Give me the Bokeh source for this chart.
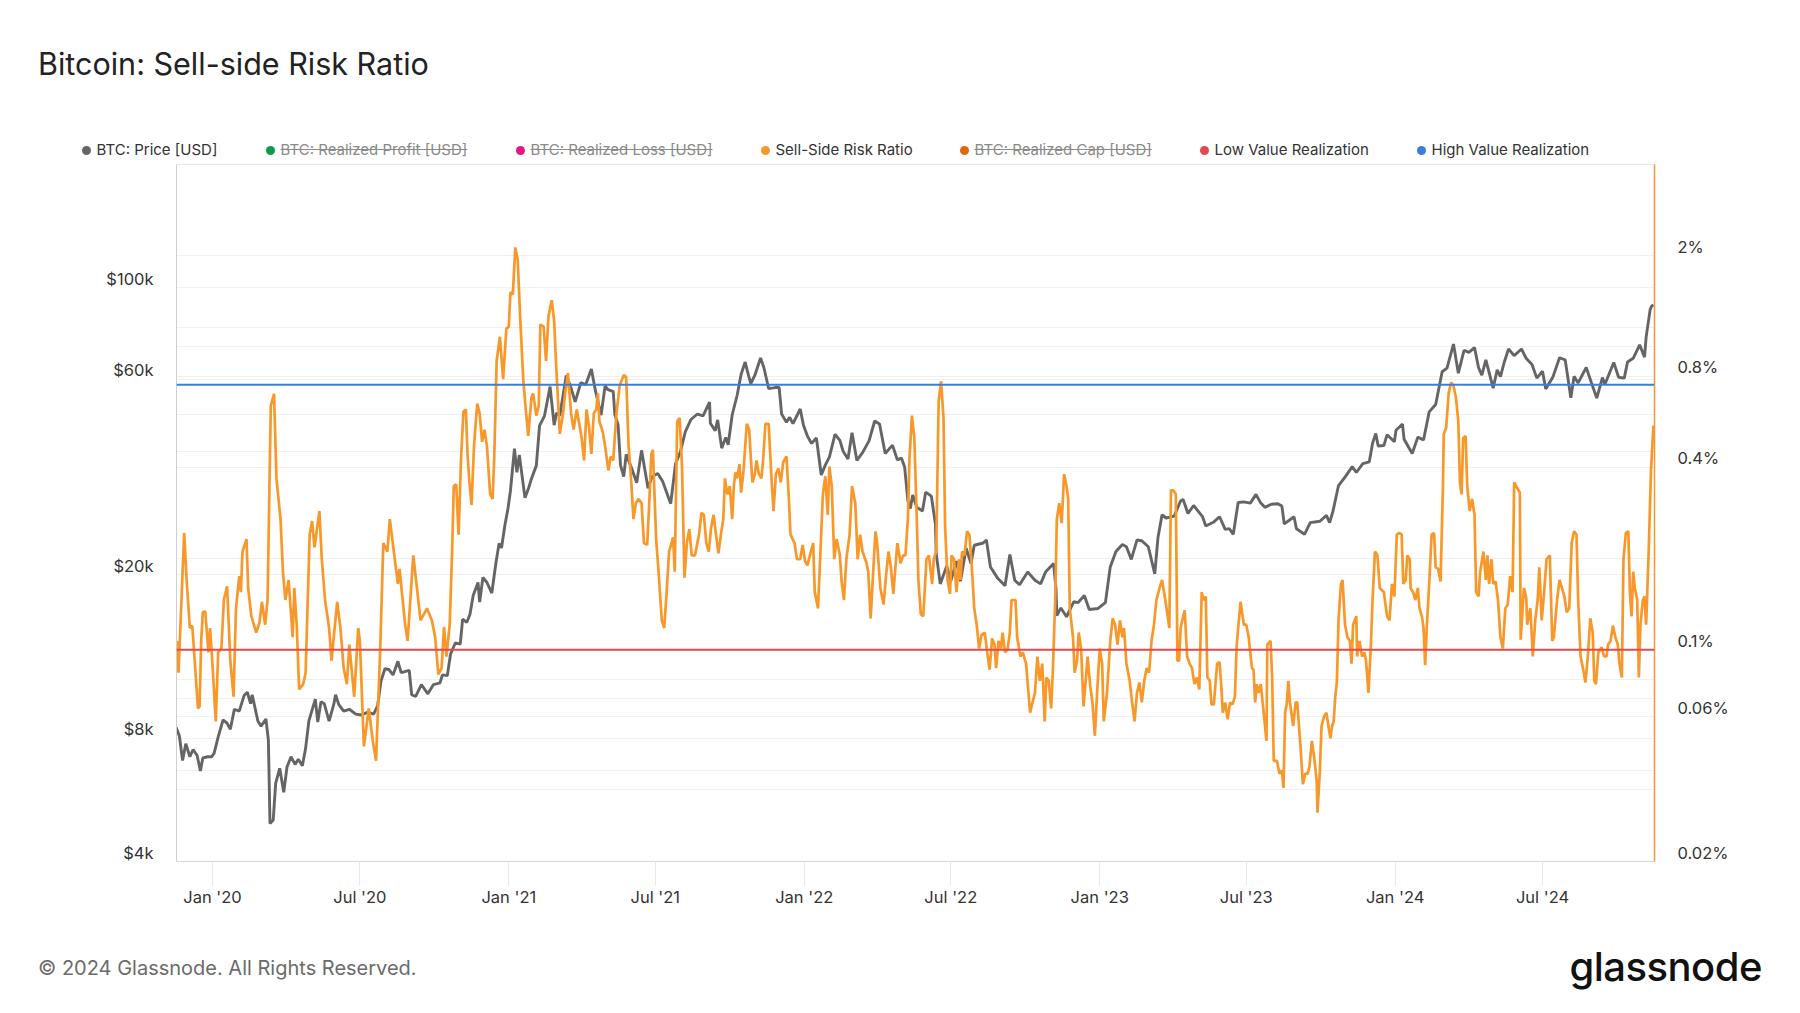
import math
import pandas as pd
from bokeh.plotting import figure
from bokeh.models import (Range1d, LogAxis, FixedTicker, Grid, Span, Div,
                          DatetimeTickFormatter, CustomJSTickFormatter)
from bokeh.layouts import column
from bokeh.embed import file_html
from bokeh.resources import INLINE

TITLE = "Bitcoin: Sell-side Risk Ratio"
FOOTER = "© 2024 Glassnode. All Rights Reserved."
LOGO = "glassnode"

# ---------------- data ----------------
price_dates = [
 "2019-11-17","2019-11-21","2019-11-25","2019-11-29","2019-12-04","2019-12-08","2019-12-13","2019-12-17","2019-12-20","2019-12-26",
 "2019-12-31","2020-01-03","2020-01-08","2020-01-14","2020-01-19","2020-01-23","2020-01-28","2020-02-03","2020-02-09","2020-02-13",
 "2020-02-17","2020-02-19","2020-02-26","2020-03-01","2020-03-07","2020-03-10","2020-03-12","2020-03-16","2020-03-19","2020-03-24",
 "2020-03-29","2020-04-02","2020-04-07","2020-04-12","2020-04-16","2020-04-21","2020-04-25","2020-04-29","2020-05-07","2020-05-10",
 "2020-05-14","2020-05-18","2020-05-24","2020-05-30","2020-06-01","2020-06-05","2020-06-11","2020-06-18","2020-06-26","2020-07-03",
 "2020-07-11","2020-07-18","2020-07-23","2020-07-27","2020-08-01","2020-08-06","2020-08-11","2020-08-17","2020-08-21","2020-08-31",
 "2020-09-03","2020-09-08","2020-09-15","2020-09-23","2020-09-30","2020-10-08","2020-10-11","2020-10-17","2020-10-21","2020-10-27",
 "2020-11-02","2020-11-05","2020-11-10","2020-11-14","2020-11-18","2020-11-24","2020-11-26","2020-11-30","2020-12-05","2020-12-11",
 "2020-12-16","2020-12-20","2020-12-23","2020-12-27","2020-12-31","2021-01-03","2021-01-08","2021-01-11","2021-01-14","2021-01-21",
 "2021-01-25","2021-01-29","2021-02-04","2021-02-08","2021-02-14","2021-02-21","2021-02-26","2021-03-01","2021-03-05","2021-03-13",
 "2021-03-18","2021-03-24","2021-03-31","2021-04-06","2021-04-13","2021-04-18","2021-04-25","2021-04-30","2021-05-03","2021-05-10",
 "2021-05-12","2021-05-16","2021-05-19","2021-05-23","2021-05-26","2021-06-01","2021-06-08","2021-06-14","2021-06-22","2021-06-27",
 "2021-07-04","2021-07-10","2021-07-20","2021-07-26","2021-08-01","2021-08-07","2021-08-14","2021-08-22","2021-08-29","2021-09-06",
 "2021-09-07","2021-09-13","2021-09-16","2021-09-21","2021-09-26","2021-09-29","2021-10-04","2021-10-10","2021-10-15","2021-10-20",
 "2021-10-24","2021-10-27","2021-11-01","2021-11-08","2021-11-12","2021-11-18","2021-11-24","2021-11-28","2021-12-01","2021-12-04",
 "2021-12-10","2021-12-14","2021-12-18","2021-12-27","2021-12-31","2022-01-05","2022-01-10","2022-01-16","2022-01-22","2022-01-27",
 "2022-02-01","2022-02-08","2022-02-10","2022-02-14","2022-02-18","2022-02-24","2022-03-01","2022-03-07","2022-03-14","2022-03-22",
 "2022-03-29","2022-04-04","2022-04-11","2022-04-20","2022-04-26","2022-05-01","2022-05-05","2022-05-09","2022-05-12","2022-05-15",
 "2022-05-20","2022-05-27","2022-05-31","2022-06-07","2022-06-12","2022-06-13","2022-06-18","2022-06-26","2022-07-01","2022-07-08",
 "2022-07-13","2022-07-20","2022-07-26","2022-07-30","2022-08-10","2022-08-14","2022-08-19","2022-08-28","2022-09-06","2022-09-12",
 "2022-09-18","2022-09-24","2022-10-04","2022-10-13","2022-10-20","2022-10-26","2022-11-05","2022-11-08","2022-11-09","2022-11-14",
 "2022-11-21","2022-11-30","2022-12-05","2022-12-13","2022-12-19","2022-12-30","2023-01-08","2023-01-14","2023-01-21","2023-01-29",
 "2023-02-03","2023-02-09","2023-02-16","2023-02-22","2023-03-02","2023-03-10","2023-03-14","2023-03-19","2023-03-24","2023-04-03",
 "2023-04-11","2023-04-14","2023-04-20","2023-04-27","2023-05-08","2023-05-12","2023-05-22","2023-05-29","2023-06-05","2023-06-10",
 "2023-06-15","2023-06-21","2023-06-28","2023-07-06","2023-07-13","2023-07-19","2023-07-24","2023-08-01","2023-08-09","2023-08-14",
 "2023-08-17","2023-08-29","2023-09-01","2023-09-11","2023-09-18","2023-09-30","2023-10-08","2023-10-12","2023-10-16","2023-10-23",
 "2023-10-31","2023-11-09","2023-11-14","2023-11-22","2023-11-30","2023-12-04","2023-12-08","2023-12-11","2023-12-18","2023-12-22",
 "2023-12-31","2024-01-02","2024-01-10","2024-01-12","2024-01-22","2024-01-29","2024-02-05","2024-02-12","2024-02-20","2024-02-28",
 "2024-03-05","2024-03-13","2024-03-19","2024-03-26","2024-04-01","2024-04-08","2024-04-13","2024-04-17","2024-04-22","2024-05-01",
 "2024-05-06","2024-05-10","2024-05-15","2024-05-20","2024-05-27","2024-06-05","2024-06-11","2024-06-18","2024-06-24","2024-07-01",
 "2024-07-05","2024-07-14","2024-07-22","2024-07-29","2024-08-05","2024-08-09","2024-08-14","2024-08-24","2024-08-30","2024-09-06",
 "2024-09-13","2024-09-16","2024-09-27","2024-10-03","2024-10-10","2024-10-14","2024-10-21","2024-10-29","2024-11-04","2024-11-06",
 "2024-11-11","2024-11-13","2024-11-15",
]
price_usd = [
 8500,8100,7050,7750,7200,7500,7250,6650,7150,7200,
 7200,7350,8050,8850,8700,8400,9400,9300,10150,10350,
 9700,10200,8800,8550,8900,7900,4950,5050,6200,6750,
 5900,6800,7200,6900,7100,6850,7550,8800,9950,8750,
 9800,9700,8800,9700,10200,9650,9300,9400,9150,9100,
 9250,9150,9600,11000,11800,11750,11400,12300,11550,11700,
 10200,10100,10800,10250,10800,10900,11400,11350,12800,13650,
 13550,15600,15300,16000,17800,19150,17150,19700,19150,18050,
 21300,23850,23250,26300,29000,32000,40600,35550,39200,30800,
 32300,34300,36900,46200,48700,57500,46300,49600,48800,61200,
 57800,52800,58800,58100,63500,56200,49000,57800,56600,55900,
 49150,46400,37000,34700,39300,36700,33500,40200,32500,34700,
 35300,33800,29800,37300,39900,44600,47800,49300,48800,52700,
 46800,44900,47700,40700,43200,41500,49100,54700,61600,66000,
 61300,58500,61300,67500,64100,56900,57100,57300,57200,49300,
 47100,48400,46700,50700,46300,43500,41800,43100,35000,37000,
 38700,44000,43500,42500,40000,38300,44400,38000,39700,42400,
 47400,46600,39500,41400,38100,38500,36600,30300,29000,31300,
 29200,28600,31800,31100,26600,22500,19000,21000,19300,21600,
 19300,23200,21300,23600,23900,24300,20900,19600,18800,22400,
 19400,18900,20300,19400,19000,20300,21300,18500,15900,16600,
 15800,17200,17100,17800,16450,16550,17100,20900,22800,23700,
 23400,21800,24300,24200,23400,20100,24700,28000,27500,27800,
 30300,30500,28200,29500,27700,26300,26900,27700,25800,25900,
 25100,30000,30100,29900,31400,29900,29200,29700,29800,29400,
 26600,27700,25900,25100,26800,27000,27900,26800,28500,33000,
 34600,36700,35500,37300,37700,41800,44200,41200,41300,43900,
 42200,45000,46600,42800,39500,43300,42600,49900,52000,62500,
 63800,73000,62000,70500,69700,71600,63900,61300,66800,57000,
 63200,60800,66200,71000,68400,71000,67300,65100,60300,62700,
 56700,60800,67600,66800,54000,60900,58700,64000,59100,53900,
 60500,58200,65800,60600,60300,66000,67400,72700,67800,75900,
 88700,90400,91000,
]

ssr_dates = [
 "2019-11-18","2019-11-20","2019-11-27","2019-11-30","2019-12-04","2019-12-07","2019-12-10","2019-12-14","2019-12-16","2019-12-18",
 "2019-12-20","2019-12-23","2019-12-27","2019-12-29","2019-12-31","2020-01-02","2020-01-05","2020-01-08","2020-01-12","2020-01-15",
 "2020-01-19","2020-01-23","2020-01-27","2020-01-30","2020-02-03","2020-02-05","2020-02-07","2020-02-12","2020-02-14","2020-02-18",
 "2020-02-24","2020-02-28","2020-03-02","2020-03-06","2020-03-09","2020-03-13","2020-03-17","2020-03-20","2020-03-25","2020-03-28",
 "2020-03-31","2020-04-04","2020-04-09","2020-04-11","2020-04-14","2020-04-17","2020-04-22","2020-04-25","2020-04-30","2020-05-03",
 "2020-05-06","2020-05-12","2020-05-15","2020-05-19","2020-05-24","2020-05-27","2020-06-03","2020-06-07","2020-06-11","2020-06-15",
 "2020-06-18","2020-06-24","2020-06-29","2020-07-01","2020-07-06","2020-07-12","2020-07-17","2020-07-21","2020-07-26","2020-07-30",
 "2020-08-04","2020-08-07","2020-08-17","2020-08-19","2020-08-26","2020-08-29","2020-09-05","2020-09-14","2020-09-22","2020-09-28",
 "2020-10-02","2020-10-06","2020-10-10","2020-10-13","2020-10-16","2020-10-20","2020-10-23","2020-10-25","2020-10-28","2020-10-31",
 "2020-11-03","2020-11-06","2020-11-09","2020-11-11","2020-11-13","2020-11-16","2020-11-19","2020-11-23","2020-11-26","2020-11-29",
 "2020-12-02","2020-12-05","2020-12-09","2020-12-12","2020-12-14","2020-12-17","2020-12-21","2020-12-25","2020-12-29","2021-01-01",
 "2021-01-03","2021-01-06","2021-01-09","2021-01-12","2021-01-15","2021-01-19","2021-01-22","2021-01-25","2021-01-29","2021-01-31",
 "2021-02-04","2021-02-07","2021-02-09","2021-02-13","2021-02-16","2021-02-19","2021-02-23","2021-02-26","2021-03-01","2021-03-05",
 "2021-03-09","2021-03-11","2021-03-15","2021-03-19","2021-03-22","2021-03-26","2021-03-29","2021-04-01","2021-04-04","2021-04-07",
 "2021-04-10","2021-04-13","2021-04-16","2021-04-19","2021-04-21","2021-04-23","2021-04-27","2021-04-30","2021-05-04","2021-05-07",
 "2021-05-10","2021-05-14","2021-05-18","2021-05-23","2021-05-26","2021-05-29","2021-06-01","2021-06-04","2021-06-07","2021-06-10",
 "2021-06-14","2021-06-17","2021-06-21","2021-06-24","2021-06-26","2021-06-28","2021-07-02","2021-07-05","2021-07-09","2021-07-12",
 "2021-07-15","2021-07-18","2021-07-23","2021-07-25","2021-07-28","2021-07-31","2021-08-03","2021-08-06","2021-08-09","2021-08-12",
 "2021-08-15","2021-08-19","2021-08-24","2021-08-27","2021-08-30","2021-09-02","2021-09-05","2021-09-08","2021-09-11","2021-09-14",
 "2021-09-17","2021-09-20","2021-09-23","2021-09-25","2021-09-28","2021-10-01","2021-10-04","2021-10-06","2021-10-08","2021-10-10",
 "2021-10-13","2021-10-15","2021-10-18","2021-10-22","2021-10-25","2021-10-27","2021-10-29","2021-11-01","2021-11-03","2021-11-06",
 "2021-11-09","2021-11-11","2021-11-14","2021-11-18","2021-11-21","2021-11-24","2021-11-27","2021-11-30","2021-12-03","2021-12-06",
 "2021-12-10","2021-12-13","2021-12-15","2021-12-20","2021-12-23","2021-12-27","2021-12-30","2022-01-02","2022-01-05","2022-01-08",
 "2022-01-12","2022-01-14","2022-01-18","2022-01-21","2022-01-24","2022-01-27","2022-01-30","2022-02-01","2022-02-04","2022-02-07",
 "2022-02-10","2022-02-14","2022-02-16","2022-02-19","2022-02-22","2022-02-26","2022-03-01","2022-03-05","2022-03-08","2022-03-11",
 "2022-03-14","2022-03-19","2022-03-21","2022-03-24","2022-03-28","2022-03-30","2022-04-01","2022-04-05","2022-04-09","2022-04-12",
 "2022-04-15","2022-04-18","2022-04-21","2022-04-24","2022-04-26","2022-04-30","2022-05-03","2022-05-06","2022-05-09","2022-05-11",
 "2022-05-14","2022-05-17","2022-05-20","2022-05-22","2022-05-25","2022-05-28","2022-06-01","2022-06-04","2022-06-08","2022-06-10",
 "2022-06-13","2022-06-16","2022-06-19","2022-06-22","2022-06-24","2022-06-27","2022-06-30","2022-07-02","2022-07-05","2022-07-08",
 "2022-07-11","2022-07-13","2022-07-15","2022-07-18","2022-07-21","2022-07-24","2022-07-27","2022-07-30","2022-08-02","2022-08-05",
 "2022-08-08","2022-08-12","2022-08-15","2022-08-18","2022-08-21","2022-08-24","2022-08-26","2022-08-29","2022-09-01","2022-09-03",
 "2022-09-06","2022-09-09","2022-09-12","2022-09-14","2022-09-19","2022-09-21","2022-09-25","2022-09-28","2022-10-02","2022-10-05",
 "2022-10-07","2022-10-10","2022-10-13","2022-10-16","2022-10-19","2022-10-22","2022-10-25","2022-10-27","2022-10-30","2022-11-02",
 "2022-11-04","2022-11-07","2022-11-09","2022-11-12","2022-11-15","2022-11-18","2022-11-21","2022-11-23","2022-11-25","2022-11-29",
 "2022-12-01","2022-12-04","2022-12-06","2022-12-09","2022-12-12","2022-12-15","2022-12-17","2022-12-20","2022-12-23","2022-12-26",
 "2022-12-29","2023-01-01","2023-01-04","2023-01-06","2023-01-10","2023-01-14","2023-01-17","2023-01-20","2023-01-23","2023-01-26",
 "2023-01-29","2023-01-31","2023-02-03","2023-02-07","2023-02-10","2023-02-13","2023-02-16","2023-02-19","2023-02-22","2023-02-25",
 "2023-02-28","2023-03-03","2023-03-06","2023-03-09","2023-03-12","2023-03-16","2023-03-19","2023-03-23","2023-03-26","2023-03-28",
 "2023-03-30","2023-04-02","2023-04-05","2023-04-07","2023-04-09","2023-04-11","2023-04-14","2023-04-16","2023-04-19","2023-04-22",
 "2023-04-25","2023-04-28","2023-05-01","2023-05-04","2023-05-07","2023-05-09","2023-05-12","2023-05-14","2023-05-17","2023-05-19",
 "2023-05-22","2023-05-26","2023-05-29","2023-05-31","2023-06-02","2023-06-05","2023-06-08","2023-06-11","2023-06-14","2023-06-17",
 "2023-06-19","2023-06-21","2023-06-24","2023-06-28","2023-07-01","2023-07-04","2023-07-06","2023-07-08","2023-07-10","2023-07-12",
 "2023-07-14","2023-07-16","2023-07-19","2023-07-22","2023-07-26","2023-07-27","2023-07-31","2023-08-02","2023-08-04","2023-08-08",
 "2023-08-11","2023-08-14","2023-08-16","2023-08-18","2023-08-20","2023-08-22","2023-08-24","2023-08-28","2023-08-31","2023-09-02",
 "2023-09-06","2023-09-09","2023-09-12","2023-09-15","2023-09-17","2023-09-20","2023-09-23","2023-09-26","2023-09-27","2023-09-30",
 "2023-10-02","2023-10-05","2023-10-08","2023-10-11","2023-10-13","2023-10-15","2023-10-17","2023-10-19","2023-10-21","2023-10-23",
 "2023-10-26","2023-10-28","2023-10-31","2023-11-03","2023-11-06","2023-11-08","2023-11-10","2023-11-14","2023-11-15","2023-11-18",
 "2023-11-21","2023-11-24","2023-11-26","2023-11-29","2023-12-02","2023-12-04","2023-12-07","2023-12-10","2023-12-13","2023-12-18",
 "2023-12-20","2023-12-22","2023-12-25","2023-12-28","2023-12-31","2024-01-03","2024-01-06","2024-01-09","2024-01-11","2024-01-14",
 "2024-01-16","2024-01-19","2024-01-20","2024-01-23","2024-01-26","2024-01-29","2024-01-31","2024-02-03","2024-02-05","2024-02-07",
 "2024-02-09","2024-02-12","2024-02-15","2024-02-18","2024-02-20","2024-02-23","2024-02-26","2024-02-29","2024-03-01","2024-03-04",
 "2024-03-07","2024-03-10","2024-03-13","2024-03-16","2024-03-19","2024-03-21","2024-03-23","2024-03-25","2024-03-28","2024-03-30",
 "2024-04-02","2024-04-05","2024-04-08","2024-04-10","2024-04-13","2024-04-15","2024-04-19","2024-04-22","2024-04-24","2024-04-26",
 "2024-04-29","2024-05-01","2024-05-04","2024-05-07","2024-05-10","2024-05-13","2024-05-16","2024-05-19","2024-05-22","2024-05-25",
 "2024-05-27","2024-05-31","2024-06-03","2024-06-04","2024-06-08","2024-06-11","2024-06-12","2024-06-16","2024-06-19","2024-06-22",
 "2024-06-25","2024-06-27","2024-06-30","2024-07-03","2024-07-06","2024-07-10","2024-07-13","2024-07-15","2024-07-19","2024-07-22",
 "2024-07-25","2024-07-28","2024-07-31","2024-08-03","2024-08-06","2024-08-09","2024-08-12","2024-08-14","2024-08-17","2024-08-21",
 "2024-08-23","2024-08-26","2024-08-29","2024-09-01","2024-09-03","2024-09-05","2024-09-08","2024-09-12","2024-09-15","2024-09-18",
 "2024-09-20","2024-09-23","2024-09-26","2024-09-29","2024-10-02","2024-10-04","2024-10-07","2024-10-09","2024-10-12","2024-10-15",
 "2024-10-17","2024-10-19","2024-10-21","2024-10-23","2024-10-26","2024-10-28","2024-10-30","2024-11-02","2024-11-04","2024-11-06",
 "2024-11-09","2024-11-12","2024-11-15",
]
ssr_pct = [
 0.107,0.084,0.243,0.170,0.118,0.120,0.092,0.064,0.065,0.107,
 0.133,0.134,0.098,0.118,0.098,0.080,0.058,0.098,0.101,0.146,
 0.162,0.092,0.070,0.137,0.175,0.155,0.211,0.232,0.160,0.129,
 0.114,0.123,0.144,0.121,0.146,0.640,0.700,0.368,0.270,0.181,
 0.146,0.170,0.110,0.160,0.121,0.074,0.077,0.084,0.240,0.266,
 0.218,0.287,0.199,0.146,0.118,0.092,0.144,0.118,0.087,0.077,
 0.104,0.070,0.118,0.107,0.048,0.064,0.050,0.043,0.098,0.225,
 0.211,0.270,0.165,0.185,0.121,0.107,0.205,0.125,0.137,0.125,
 0.110,0.083,0.087,0.119,0.095,0.121,0.211,0.347,0.352,0.240,
 0.429,0.612,0.621,0.443,0.368,0.300,0.470,0.650,0.602,0.486,
 0.533,0.470,0.326,0.315,0.429,0.898,1.080,0.782,1.149,1.166,
 1.515,1.490,2.130,1.940,1.260,0.770,0.621,0.508,0.681,0.702,
 0.593,0.640,1.185,1.166,0.898,1.260,1.425,1.220,0.819,0.516,
 0.602,0.681,0.819,0.602,0.533,0.621,0.557,0.500,0.422,0.621,
 0.548,0.443,0.602,0.621,0.702,0.566,0.525,0.470,0.391,0.435,
 0.422,0.602,0.746,0.807,0.796,0.470,0.368,0.270,0.305,0.315,
 0.305,0.225,0.222,0.326,0.443,0.457,0.232,0.181,0.125,0.118,
 0.155,0.211,0.235,0.181,0.566,0.583,0.403,0.173,0.225,0.250,
 0.205,0.205,0.240,0.283,0.279,0.225,0.211,0.254,0.279,0.240,
 0.208,0.240,0.270,0.368,0.326,0.347,0.270,0.347,0.385,0.368,
 0.410,0.330,0.391,0.557,0.533,0.429,0.357,0.380,0.422,0.380,
 0.368,0.416,0.557,0.557,0.391,0.287,0.380,0.397,0.357,0.416,
 0.435,0.315,0.240,0.225,0.199,0.199,0.222,0.196,0.190,0.205,
 0.225,0.155,0.137,0.211,0.326,0.374,0.279,0.403,0.347,0.199,
 0.232,0.205,0.170,0.146,0.199,0.240,0.347,0.305,0.199,0.240,
 0.211,0.193,0.181,0.127,0.199,0.246,0.225,0.160,0.141,0.175,
 0.211,0.187,0.153,0.193,0.225,0.193,0.205,0.205,0.270,0.429,
 0.593,0.500,0.270,0.170,0.131,0.129,0.199,0.205,0.165,0.199,
 0.211,0.660,0.770,0.583,0.254,0.170,0.153,0.205,0.199,0.155,
 0.199,0.170,0.211,0.205,0.246,0.240,0.187,0.137,0.121,0.101,
 0.112,0.114,0.098,0.086,0.109,0.104,0.087,0.107,0.101,0.114,
 0.098,0.100,0.114,0.146,0.146,0.110,0.095,0.098,0.090,0.072,
 0.062,0.067,0.072,0.095,0.079,0.090,0.058,0.081,0.079,0.064,
 0.084,0.146,0.270,0.305,0.262,0.380,0.347,0.315,0.137,0.110,
 0.084,0.092,0.114,0.101,0.065,0.081,0.095,0.077,0.067,0.052,
 0.074,0.101,0.090,0.058,0.072,0.107,0.127,0.121,0.104,0.125,
 0.110,0.118,0.090,0.079,0.067,0.058,0.072,0.078,0.067,0.079,
 0.087,0.084,0.107,0.121,0.146,0.160,0.170,0.146,0.129,0.118,
 0.336,0.336,0.326,0.092,0.092,0.118,0.129,0.135,0.095,0.090,
 0.087,0.077,0.081,0.074,0.155,0.146,0.150,0.081,0.079,0.066,
 0.066,0.090,0.091,0.077,0.062,0.067,0.059,0.067,0.066,0.070,
 0.101,0.118,0.144,0.121,0.121,0.110,0.098,0.087,0.086,0.067,
 0.077,0.072,0.077,0.064,0.050,0.104,0.107,0.081,0.043,0.043,
 0.039,0.040,0.035,0.062,0.066,0.079,0.067,0.056,0.067,0.067,
 0.048,0.036,0.039,0.039,0.041,0.050,0.044,0.037,0.029,0.040,
 0.056,0.060,0.062,0.055,0.051,0.056,0.058,0.070,0.079,0.125,
 0.165,0.170,0.121,0.110,0.107,0.090,0.121,0.129,0.095,0.107,
 0.095,0.098,0.092,0.072,0.104,0.146,0.211,0.205,0.160,0.155,
 0.141,0.129,0.125,0.165,0.150,0.240,0.243,0.240,0.165,0.170,
 0.205,0.199,0.160,0.155,0.146,0.160,0.137,0.129,0.118,0.089,
 0.118,0.165,0.240,0.243,0.187,0.185,0.168,0.347,0.516,0.541,
 0.702,0.763,0.746,0.681,0.566,0.357,0.326,0.500,0.508,0.347,
 0.287,0.315,0.279,0.155,0.150,0.181,0.211,0.170,0.205,0.165,
 0.199,0.165,0.168,0.146,0.110,0.101,0.137,0.141,0.175,0.155,
 0.357,0.341,0.330,0.108,0.160,0.148,0.121,0.137,0.095,0.125,
 0.146,0.187,0.125,0.155,0.199,0.205,0.107,0.110,0.146,0.170,
 0.160,0.150,0.133,0.137,0.225,0.246,0.240,0.146,0.095,0.084,
 0.078,0.095,0.127,0.114,0.079,0.077,0.098,0.102,0.095,0.095,
 0.104,0.107,0.120,0.110,0.104,0.090,0.081,0.199,0.243,0.246,
 0.153,0.129,0.181,0.160,0.146,0.081,0.121,0.146,0.150,0.121,
 0.205,0.391,0.550,
]

LOW_VALUE_PCT = 0.1
HIGH_VALUE_PCT = 0.75

PRICE_RANGE = (4000, 200000)
SSR_RANGE = (0.02, 4)
PRICE_TICKS = [4000, 6000, 8000, 10000, 20000, 40000, 60000, 80000, 100000]
PRICE_LABEL_VALUES = [4000, 8000, 20000, 60000, 100000]
PRICE_LABEL_TEXTS = ["$4k", "$8k", "$20k", "$60k", "$100k"]
SSR_TICKS = [0.02, 0.04, 0.06, 0.08, 0.1, 0.2, 0.4, 0.6, 0.8, 1, 2]
SSR_LABEL_VALUES = [0.02, 0.06, 0.1, 0.4, 0.8, 2]
SSR_LABEL_TEXTS = ["0.02%", "0.06%", "0.1%", "0.4%", "0.8%", "2%"]
X_TICKS = ["2020-01-01", "2020-07-01", "2021-01-01", "2021-07-01", "2022-01-01",
           "2022-07-01", "2023-01-01", "2023-07-01", "2024-01-01", "2024-07-01"]
X_START = "2019-11-17 12:00"
X_END = "2024-11-16 08:00"

LEGEND_LABELS = ["BTC: Price [USD]", "BTC: Realized Profit [USD]", "BTC: Realized Loss [USD]",
                 "Sell-Side Risk Ratio", "BTC: Realized Cap [USD]", "Low Value Realization",
                 "High Value Realization"]
LEGEND_ACTIVE = [True, False, False, True, False, True, True]

# ---------------- styles / layout ----------------
PRICE_COLOR = "#656565"
SSR_COLOR = "#f8982a"
LOW_COLOR = "#e5484d"
HIGH_COLOR = "#3e7bdc"
LEGEND_COLORS = [PRICE_COLOR, "#0e9b45", "#e3177f", SSR_COLOR, "#e1670c", LOW_COLOR, HIGH_COLOR]
LEGEND_X = [86, 270, 520, 765, 964, 1204, 1421]
FONT = "Inter"

W = 1784
HEADER_H = 159
BL, BR, BT, BB = 176, 130, 5, 60
FRAME_H = 697
FIG_H = BT + FRAME_H + BB
FOOTER_H = 997 - HEADER_H - FIG_H
LABEL_LIFT = 9  # tick text sits just above its grid line

price_x = pd.to_datetime(price_dates)
ssr_x = pd.to_datetime(ssr_dates)

p = figure(width=W, height=FIG_H, x_axis_type="datetime", y_axis_type="log",
           x_range=Range1d(pd.Timestamp(X_START), pd.Timestamp(X_END)),
           y_range=Range1d(*PRICE_RANGE),
           output_backend="svg", toolbar_location=None,
           min_border_left=BL, min_border_right=BR, min_border_top=BT, min_border_bottom=BB,
           background_fill_color="white", border_fill_color="white")
p.outline_line_color = "#e6e6e6"
p.extra_y_ranges = {"ssr": Range1d(*SSR_RANGE)}


def lifted(vals, rng):
    f = 10 ** (LABEL_LIFT * math.log10(rng[1] / rng[0]) / FRAME_H)
    return [v * f for v in vals]


def label_formatter(ticks, texts):
    return CustomJSTickFormatter(args=dict(vals=ticks, texts=texts), code="""
        for (let i = 0; i < vals.length; i++) {
            if (Math.abs(Math.log(tick / vals[i])) < 1e-6) return texts[i];
        }
        return '';
    """)


price_label_ticks = lifted(PRICE_LABEL_VALUES, PRICE_RANGE)
ssr_label_ticks = lifted(SSR_LABEL_VALUES, SSR_RANGE)

# left axis (price): labels only, grid uses its own ticker
la = p.yaxis[0]
la.ticker = FixedTicker(ticks=price_label_ticks)
la.formatter = label_formatter(price_label_ticks, PRICE_LABEL_TEXTS)
la.major_tick_line_color = None
la.minor_tick_line_color = None
la.axis_line_color = "#cfcfcf"
la.major_label_standoff = 17
la.major_label_text_font = FONT
la.major_label_text_font_size = "16.5px"
la.major_label_text_color = "#333333"
p.ygrid[0].ticker = FixedTicker(ticks=PRICE_TICKS)
p.ygrid[0].grid_line_color = "#f0f0f0"

# right axis (ratio)
ra = LogAxis(y_range_name="ssr", ticker=FixedTicker(ticks=ssr_label_ticks),
             formatter=label_formatter(ssr_label_ticks, SSR_LABEL_TEXTS),
             major_tick_line_color=None, minor_tick_line_color=None,
             axis_line_color=SSR_COLOR, axis_line_width=1.5, major_label_standoff=17,
             major_label_text_font=FONT, major_label_text_font_size="16.5px",
             major_label_text_color="#333333")
p.add_layout(ra, "right")
p.add_layout(Grid(dimension=1, ticker=FixedTicker(ticks=SSR_TICKS), y_range_name="ssr",
                  grid_line_color="#f0f0f0"))

p.xgrid.visible = False

# x axis
xa = p.xaxis[0]
xa.ticker = FixedTicker(ticks=[pd.Timestamp(t).value / 1e6 for t in X_TICKS])
xa.formatter = DatetimeTickFormatter(days="%b '%y", months="%b '%y", years="%b '%y")
xa.major_tick_out = 24
xa.major_tick_in = 0
xa.minor_tick_line_color = None
xa.major_tick_line_color = "#e8e8e8"
xa.axis_line_color = "#d6d6d6"
xa.major_label_standoff = 1
xa.major_label_text_font = FONT
xa.major_label_text_font_size = "16.5px"
xa.major_label_text_color = "#333333"

# series
p.line(price_x, price_usd, line_color=PRICE_COLOR, line_width=2.9)
p.line(ssr_x, ssr_pct, y_range_name="ssr", line_color=SSR_COLOR, line_width=2.7)
p.add_layout(Span(location=LOW_VALUE_PCT, dimension="width", y_range_name="ssr",
                  line_color=LOW_COLOR, line_width=2))
p.add_layout(Span(location=HIGH_VALUE_PCT, dimension="width", y_range_name="ssr",
                  line_color=HIGH_COLOR, line_width=2))

# header: title + legend
items = []
for lab, col, act, x in zip(LEGEND_LABELS, LEGEND_COLORS, LEGEND_ACTIVE, LEGEND_X):
    tstyle = "color:#333333;" if act else "color:#8a8a8a;text-decoration:line-through;"
    items.append(
        f'<div style="position:absolute;left:{x - 4.5}px;top:141px;height:18px;line-height:18px;'
        f'font-size:15px;white-space:nowrap;display:flex;align-items:center;">'
        f'<span style="display:inline-block;width:9px;height:9px;border-radius:50%;background:{col};'
        f'margin-right:6px;"></span><span style="{tstyle}">{lab}</span></div>')
header_html = (
    f'<div style="position:relative;width:{W}px;height:{HEADER_H}px;font-family:{FONT},sans-serif;">'
    f'<div style="position:absolute;left:38px;top:46px;font-size:30.5px;line-height:36px;'
    f'color:#222222;white-space:nowrap;">{TITLE}</div>' + "".join(items) + '</div>')
header = Div(text=header_html, width=W, height=HEADER_H, margin=0)

footer_html = (
    f'<div style="position:relative;width:{W}px;height:{FOOTER_H}px;font-family:{FONT},sans-serif;">'
    f'<div style="position:absolute;left:38px;top:35px;font-size:20px;line-height:24px;'
    f'color:#6b6b6b;white-space:nowrap;">{FOOTER}</div>'
    f'<div style="position:absolute;right:22px;top:22px;font-size:40px;line-height:48px;'
    f'font-weight:500;letter-spacing:-0.5px;color:#111111;white-space:nowrap;">{LOGO}</div></div>')
footer = Div(text=footer_html, width=W, height=FOOTER_H, margin=0)

layout = column(header, p, footer, spacing=0)
open("out.html", "w").write(file_html(layout, INLINE))
